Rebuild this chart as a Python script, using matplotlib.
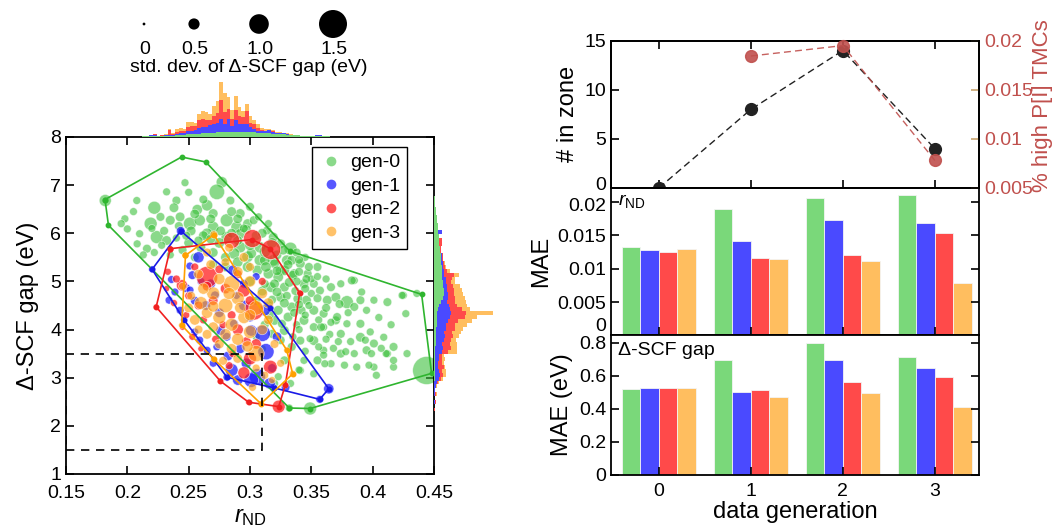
import numpy as np
import matplotlib
matplotlib.use("Agg")
import matplotlib.pyplot as plt
from matplotlib.lines import Line2D
from matplotlib.patches import Rectangle
from matplotlib.ticker import FuncFormatter
from matplotlib.transforms import ScaledTranslation

plt.rcParams['font.family'] = ['Liberation Sans', 'DejaVu Sans']
plt.rcParams['mathtext.fontset'] = 'custom'
plt.rcParams['mathtext.rm'] = 'Liberation Sans'
plt.rcParams['mathtext.it'] = 'Liberation Sans:italic'
plt.rcParams['xtick.direction'] = 'in'
plt.rcParams['ytick.direction'] = 'in'

# ---------------- data ----------------
gen_labels = ['gen-0', 'gen-1', 'gen-2', 'gen-3']

# scatter points: (r_ND, Delta-SCF gap, std dev of gap)
gen0_pts = [
    (0.182, 6.68, 0.55), (0.2077, 6.68, 0.3), (0.198, 6.30, 0.3), (0.200, 6.09, 0.3), (0.232, 6.86, 0.3),
    (0.240, 6.68, 0.35), (0.247, 7.05, 0.3), (0.277, 7.06, 0.5), (0.273, 6.86, 0.75), (0.238, 6.53, 0.4),
    (0.222, 6.53, 0.6), (0.257, 6.49, 0.45), (0.265, 6.58, 0.5), (0.270, 6.41, 0.4), (0.284, 6.68, 0.35),
    (0.292, 6.41, 0.4), (0.227, 6.34, 0.35), (0.219, 6.20, 0.6), (0.235, 6.27, 0.4), (0.243, 6.34, 0.4),
    (0.251, 6.20, 0.6), (0.259, 6.27, 0.5), (0.270, 6.13, 0.5), (0.281, 6.27, 0.6), (0.289, 6.13, 0.5),
    (0.298, 6.20, 0.4), (0.303, 6.27, 0.35), (0.307, 6.34, 0.3), (0.210, 5.99, 0.3), (0.224, 5.92, 0.6),
    (0.208, 5.78, 0.3), (0.216, 5.68, 0.35), (0.232, 5.85, 0.4), (0.265, 5.99, 0.5), (0.281, 5.92, 0.5),
    (0.292, 5.99, 0.45), (0.314, 6.06, 0.35), (0.319, 5.92, 0.4), (0.325, 5.78, 0.4), (0.308, 5.71, 0.5),
    (0.292, 5.71, 0.5), (0.333, 5.68, 0.6), (0.287, 5.58, 0.5), (0.298, 5.51, 0.5), (0.308, 5.44, 0.5),
    (0.319, 5.44, 0.5), (0.330, 5.44, 0.45), (0.341, 5.37, 0.4), (0.325, 5.23, 0.45), (0.336, 5.16, 0.4),
    (0.347, 5.16, 0.35), (0.355, 5.30, 0.35), (0.344, 4.95, 0.4), (0.352, 4.95, 0.35), (0.357, 4.81, 0.35),
    (0.366, 4.88, 0.35), (0.374, 4.95, 0.3), (0.385, 5.02, 0.3), (0.363, 4.61, 0.4), (0.370, 4.67, 0.4),
    (0.379, 4.57, 0.6), (0.390, 4.61, 0.35), (0.401, 4.61, 0.3), (0.412, 4.57, 0.35), (0.425, 4.71, 0.3),
    (0.436, 4.75, 0.3), (0.346, 4.61, 0.4), (0.352, 4.40, 0.4), (0.360, 4.33, 0.35), (0.344, 4.19, 0.4),
    (0.352, 4.05, 0.35), (0.360, 4.05, 0.3), (0.370, 4.19, 0.35), (0.374, 3.91, 0.35), (0.379, 4.12, 0.3),
    (0.390, 4.12, 0.35), (0.390, 3.84, 0.4), (0.401, 3.71, 0.35), (0.409, 3.84, 0.3), (0.417, 3.64, 0.35),
    (0.341, 3.77, 0.35), (0.352, 3.77, 0.4), (0.360, 3.57, 0.3), (0.374, 3.50, 0.35), (0.385, 3.50, 0.3),
    (0.395, 3.57, 0.35), (0.412, 3.50, 0.3), (0.428, 3.50, 0.3), (0.344, 3.36, 0.3), (0.355, 3.36, 0.35),
    (0.366, 3.29, 0.3), (0.387, 3.22, 0.3), (0.401, 3.22, 0.3), (0.417, 3.22, 0.3), (0.341, 3.15, 0.3),
    (0.352, 3.08, 0.3), (0.444, 3.15, 1.5), (0.349, 2.36, 0.6), (0.332, 2.37, 0.3), (0.403, 3.05, 0.3),
    (0.377, 3.26, 0.3), (0.361, 3.29, 0.3), (0.373, 4.53, 0.35), (0.383, 5.02, 0.35), (0.391, 4.78, 0.3),
    (0.424, 4.71, 0.3), (0.427, 4.33, 0.3), (0.385, 4.47, 0.35), (0.371, 4.26, 0.35), (0.339, 4.64, 0.4),
    (0.342, 4.40, 0.35), (0.358, 4.05, 0.35), (0.349, 3.81, 0.3), (0.356, 3.64, 0.3), (0.368, 3.61, 0.3),
    (0.378, 3.54, 0.3), (0.394, 3.78, 0.3), (0.399, 3.50, 0.3), (0.411, 3.50, 0.3), (0.407, 3.61, 0.3),
    (0.417, 3.36, 0.3), (0.397, 3.26, 0.3), (0.360, 3.47, 0.3), (0.301, 5.58, 0.45), (0.312, 5.44, 0.45),
    (0.320, 5.37, 0.4), (0.328, 5.23, 0.45), (0.334, 5.44, 0.4), (0.335, 5.13, 0.4), (0.323, 5.09, 0.45),
    (0.315, 5.16, 0.45), (0.306, 5.23, 0.45), (0.298, 5.30, 0.45), (0.317, 4.88, 0.45), (0.328, 4.88, 0.4),
    (0.325, 4.67, 0.4), (0.334, 4.47, 0.4), (0.323, 4.40, 0.4), (0.331, 4.26, 0.4), (0.320, 4.19, 0.4),
    (0.328, 3.98, 0.4), (0.325, 3.78, 0.35), (0.318, 3.91, 0.35), (0.334, 3.64, 0.35), (0.328, 3.36, 0.35),
    (0.323, 3.02, 0.3), (0.333, 2.88, 0.3), (0.320, 2.88, 0.3), (0.340, 3.16, 0.3), (0.290, 5.40, 0.45),
    (0.280, 5.50, 0.4), (0.270, 5.60, 0.4), (0.260, 5.70, 0.4), (0.250, 5.80, 0.4), (0.300, 5.00, 0.4),
    (0.310, 4.80, 0.4), (0.305, 4.60, 0.35), (0.315, 4.50, 0.35), (0.312, 4.10, 0.35), (0.305, 3.85, 0.3),
    (0.310, 3.60, 0.3), (0.280, 5.30, 0.4), (0.270, 5.35, 0.35), (0.255, 5.50, 0.35), (0.245, 5.65, 0.35),
    (0.300, 5.75, 0.45), (0.312, 5.62, 0.5), (0.322, 5.55, 0.4), (0.290, 5.85, 0.4), (0.275, 5.80, 0.45),
    (0.262, 5.95, 0.4), (0.252, 6.05, 0.4), (0.276, 6.05, 0.4), (0.297, 6.08, 0.4), (0.285, 6.45, 0.4),
    (0.262, 6.70, 0.35), (0.250, 6.85, 0.3), (0.300, 6.55, 0.35), (0.220, 6.10, 0.3), (0.205, 6.45, 0.3),
    (0.195, 6.20, 0.3), (0.213, 5.55, 0.3), (0.235, 5.55, 0.3), (0.230, 6.05, 0.35), (0.242, 6.15, 0.35),
    (0.268, 6.30, 0.4), (0.255, 6.40, 0.4), (0.290, 6.30, 0.4), (0.315, 6.20, 0.3), (0.338, 5.60, 0.35),
    (0.345, 5.50, 0.3), (0.350, 5.05, 0.3), (0.338, 5.00, 0.35), (0.330, 4.70, 0.35), (0.350, 4.75, 0.3),
    (0.345, 4.30, 0.3), (0.338, 4.10, 0.3), (0.335, 3.85, 0.3), (0.345, 3.55, 0.3),
    (0.305, 5.95, 0.4), (0.318, 5.80, 0.45), (0.327, 5.65, 0.4), (0.340, 5.45, 0.35), (0.348, 5.30, 0.35),
    (0.331, 5.35, 0.4), (0.322, 5.22, 0.4), (0.313, 5.30, 0.45), (0.340, 5.20, 0.35), (0.346, 5.05, 0.35),
    (0.332, 4.98, 0.4), (0.320, 4.95, 0.4), (0.312, 4.95, 0.35), (0.337, 4.80, 0.35), (0.322, 4.78, 0.4),
    (0.345, 4.85, 0.35), (0.355, 4.65, 0.35), (0.340, 4.52, 0.35), (0.328, 4.55, 0.4), (0.318, 4.62, 0.35),
    (0.336, 4.35, 0.35), (0.348, 4.50, 0.3), (0.326, 4.12, 0.35), (0.340, 4.00, 0.3), (0.316, 4.30, 0.35),
    (0.362, 4.45, 0.35), (0.366, 4.15, 0.3), (0.356, 4.20, 0.3), (0.380, 4.35, 0.3), (0.395, 4.40, 0.3),
    (0.405, 4.25, 0.3), (0.415, 4.10, 0.3), (0.398, 3.95, 0.3), (0.382, 3.75, 0.3), (0.365, 3.90, 0.3),
    (0.372, 3.75, 0.3), (0.362, 3.80, 0.3), (0.355, 5.10, 0.3), (0.362, 5.05, 0.3), (0.310, 6.00, 0.4),
    (0.295, 6.10, 0.35), (0.285, 6.00, 0.4), (0.268, 5.88, 0.4), (0.258, 5.85, 0.35), (0.248, 5.95, 0.35),
    (0.240, 5.90, 0.3), (0.228, 5.75, 0.3), (0.222, 5.60, 0.3),
]
gen1_pts = [
    (0.2435, 6.05, 0.35), (0.2202, 5.25, 0.25), (0.2463, 4.20, 0.25), (0.2812, 3.01, 0.3), (0.3193, 2.79, 0.3),
    (0.3568, 2.55, 0.3), (0.3642, 2.77, 0.45), (0.3166, 4.45, 0.25), (0.258, 5.50, 0.5), (0.251, 5.32, 0.3),
    (0.286, 5.24, 0.4), (0.253, 5.13, 0.35), (0.236, 5.04, 0.3), (0.248, 4.86, 0.35), (0.2511, 4.82, 0.3),
    (0.2388, 4.78, 0.3), (0.2715, 4.71, 0.35), (0.289, 4.71, 0.3), (0.301, 3.98, 0.5), (0.310, 3.92, 0.8),
    (0.313, 3.54, 0.8), (0.306, 3.02, 0.8), (0.301, 2.95, 0.7), (0.285, 3.16, 0.6), (0.316, 2.88, 0.5),
    (0.322, 3.85, 0.4), (0.265, 3.57, 0.3), (0.273, 3.64, 0.3), (0.259, 3.78, 0.3), (0.281, 3.85, 0.35),
    (0.276, 3.98, 0.4), (0.287, 4.12, 0.35), (0.312, 4.40, 0.5), (0.234, 4.61, 0.3), (0.243, 4.40, 0.3),
    (0.264, 4.50, 0.4), (0.255, 4.60, 0.35), (0.275, 4.35, 0.4), (0.295, 4.50, 0.45), (0.300, 4.25, 0.35),
    (0.268, 4.95, 0.4), (0.295, 4.95, 0.35), (0.305, 5.10, 0.3), (0.292, 3.60, 0.4), (0.297, 3.30, 0.45),
    (0.290, 2.95, 0.45), (0.329, 2.80, 0.35), (0.318, 3.20, 0.35), (0.270, 3.30, 0.3), (0.255, 3.95, 0.3),
    (0.282, 3.45, 0.4), (0.260, 5.00, 0.3),
]
gen2_pts = [
    (0.285, 5.85, 0.8), (0.302, 5.89, 0.9), (0.317, 5.66, 1.0), (0.265, 5.09, 1.1), (0.303, 4.40, 1.0),
    (0.295, 4.81, 0.6), (0.2445, 4.92, 0.5), (0.3166, 3.22, 0.65), (0.235, 5.68, 0.2), (0.2235, 4.47, 0.2),
    (0.2758, 2.93, 0.2), (0.2989, 2.49, 0.2), (0.3234, 2.40, 0.6), (0.3288, 2.85, 0.2), (0.3405, 4.76, 0.2),
    (0.233, 5.20, 0.25), (0.240, 5.05, 0.3), (0.232, 4.85, 0.2), (0.250, 4.70, 0.3), (0.258, 4.50, 0.35),
    (0.248, 4.30, 0.25), (0.262, 4.20, 0.3), (0.270, 4.60, 0.4), (0.280, 4.85, 0.45), (0.285, 4.30, 0.35),
    (0.290, 4.00, 0.5), (0.297, 3.75, 0.4), (0.300, 3.40, 0.6), (0.295, 3.10, 0.55), (0.286, 3.50, 0.3),
    (0.272, 3.80, 0.3), (0.278, 4.10, 0.3), (0.300, 4.60, 0.4), (0.310, 5.00, 0.3), (0.255, 5.30, 0.3),
    (0.275, 5.25, 0.35), (0.245, 4.05, 0.2), (0.260, 3.60, 0.2), (0.283, 3.25, 0.3), (0.305, 3.70, 0.45),
    (0.265, 4.90, 0.4), (0.290, 5.15, 0.35), (0.253, 3.85, 0.25), (0.238, 4.55, 0.25),
]
gen3_pts = [
    (0.2474, 5.54, 0.25), (0.2705, 5.97, 0.3), (0.330, 3.57, 0.2), (0.3348, 3.08, 0.25), (0.3089, 2.46, 0.2),
    (0.2703, 3.39, 0.2), (0.2443, 4.09, 0.2), (0.285, 4.95, 0.8), (0.305, 3.50, 0.8), (0.305, 4.45, 0.7),
    (0.270, 4.75, 0.6), (0.260, 4.55, 0.6), (0.280, 4.50, 0.7), (0.290, 4.65, 0.6), (0.275, 4.25, 0.6),
    (0.265, 4.35, 0.5), (0.285, 4.10, 0.6), (0.295, 4.25, 0.55), (0.300, 3.95, 0.6), (0.290, 3.80, 0.55),
    (0.280, 3.90, 0.5), (0.270, 4.05, 0.45), (0.255, 4.20, 0.45), (0.250, 4.45, 0.4), (0.262, 4.85, 0.5),
    (0.275, 5.05, 0.5), (0.290, 5.20, 0.45), (0.300, 5.00, 0.5), (0.310, 4.75, 0.45), (0.315, 4.20, 0.4),
    (0.310, 4.00, 0.45), (0.298, 3.65, 0.5), (0.285, 3.60, 0.45), (0.275, 3.70, 0.4), (0.265, 3.90, 0.4),
    (0.258, 4.00, 0.35), (0.252, 4.70, 0.35), (0.258, 5.15, 0.4), (0.268, 5.35, 0.4), (0.280, 5.40, 0.35),
    (0.295, 5.50, 0.4), (0.300, 4.30, 0.5), (0.283, 4.75, 0.55), (0.270, 4.48, 0.5), (0.292, 4.45, 0.5),
    (0.305, 3.20, 0.3), (0.312, 3.05, 0.3), (0.325, 3.30, 0.3), (0.318, 2.95, 0.25), (0.290, 3.40, 0.4),
    (0.278, 3.35, 0.35), (0.302, 2.80, 0.3), (0.245, 4.90, 0.3), (0.315, 4.55, 0.45), (0.320, 3.70, 0.35),
    (0.265, 5.60, 0.35), (0.283, 5.70, 0.35), (0.300, 5.30, 0.35),
]

# outline vertices per generation
gen0_hull = [(0.1818, 6.70), (0.2442, 7.584), (0.264, 7.48), (0.3324, 5.63), (0.4399, 4.73),
             (0.448, 3.09), (0.349, 2.36), (0.332, 2.37), (0.1846, 6.166)]
gen1_hull = [(0.2435, 6.05), (0.3166, 4.45), (0.3642, 2.77), (0.3568, 2.55), (0.3193, 2.79),
             (0.2812, 3.01), (0.2463, 4.20), (0.2202, 5.25)]
gen2_hull = [(0.235, 5.68), (0.3016, 5.87), (0.3166, 5.68), (0.3405, 4.76), (0.3288, 2.85),
             (0.3234, 2.40), (0.2989, 2.49), (0.2758, 2.93), (0.2235, 4.47)]
gen3_hull = [(0.2474, 5.54), (0.2705, 5.97), (0.330, 3.57), (0.3348, 3.08), (0.3089, 2.46),
             (0.2703, 3.39), (0.2443, 4.09)]

# zone box
zone_r = (0.15, 0.31)
zone_gap = (1.5, 3.5)

# marginal histogram of r_ND (stacked, bins of width 0.003 from 0.212)
rnd_bin_start, rnd_bin_w = 0.212, 0.003
rnd_hist_g0 = [1,1,1,1,1,1,1,1,1,2,2,2,3,3,3,3,4,4,4,4,5,5,5,5,5,5,5,5,5,5,5,4,4,4,4,3,3,3,3,2,2,2,2,1,1,1,1,1,1,1,1,0,0,0,0,0]
rnd_hist_g1 = [0,0,1,1,0,0,1,1,1,1,2,2,3,3,4,6,6,6,8,9,9,13,8,13,6,12,8,8,8,5,3,2,2,2,3,2,1,1,1,1,0,0,0,0,0,0,0,1,1,0,0,0,0,0,0,0]
rnd_hist_g2 = [0,0,0,1,0,1,0,5,1,2,2,2,4,5,4,8,8,7,5,8,10,19,12,10,7,10,8,7,13,4,5,3,1,0,0,1,0,0,0,0,0,0,0,0,0,0,0,0,0,0,0,0,0,0,0,0]
rnd_hist_g3 = [0,0,0,0,0,0,1,1,1,3,3,2,5,4,3,6,8,8,6,10,12,18,19,12,9,14,9,6,7,7,4,4,2,2,1,1,1,1,0,1,1,0,0,0,0,0,0,0,0,0,0,0,0,0,0,0]

# marginal histogram of gap (stacked, bins of 0.08 from 2.30)
gap_bin_start, gap_bin_w = 2.30, 0.08
gap_hist_g0 = [0,0,0,0,0,0,0,0,1,1,1,1,1,1,1,1,1,2,2,2,2,2,3,3,3,3,4,5,7,9,10,10,9,9,8,8,8,8,7,7,7,6,6,5,5,5,4,4,4,3,3,2,2,1,1,1]
gap_hist_g1 = [0,0,1,0,1,1,2,3,4,5,4,3,3,4,4,7,8,6,8,9,8,10,9,11,13,14,12,10,6,5,4,3,4,3,4,2,2,1,2,1,1,0,0,0,0,0,4,0,0,0,0,0,0,0,0,0]
gap_hist_g2 = [1,0,1,0,1,0,0,1,2,3,3,6,4,3,3,6,8,8,7,8,8,9,9,10,15,15,12,8,8,7,6,7,6,5,6,10,3,2,1,1,1,1,1,3,3,0,0,0,0,0,0,0,0,0,0,0]
gap_hist_g3 = [0,0,0,0,1,0,1,1,2,3,4,1,2,3,2,9,6,7,5,6,9,8,12,14,12,27,8,10,11,10,9,8,7,4,3,5,3,1,1,0,0,0,0,0,0,0,0,0,0,0,0,0,0,0,0,0]

# right panels
data_gen = [0, 1, 2, 3]
n_in_zone = [0, 8, 14, 4]
pct_high_PI = [np.nan, 0.01844, 0.0195, 0.0078]
mae_rnd = {
    'gen-0': [0.0132, 0.0190, 0.02056, 0.0210],
    'gen-1': [0.01286, 0.0142, 0.0173, 0.0168],
    'gen-2': [0.01245, 0.01163, 0.0120, 0.0153],
    'gen-3': [0.0129, 0.01148, 0.01117, 0.0078],
}
mae_gap = {
    'gen-0': [0.522, 0.694, 0.800, 0.713],
    'gen-1': [0.526, 0.504, 0.694, 0.648],
    'gen-2': [0.528, 0.514, 0.562, 0.593],
    'gen-3': [0.528, 0.471, 0.497, 0.414],
}
size_leg_vals = [0, 0.5, 1.0, 1.5]

# ---------------- styles ----------------
scat_cols = ['#3cc03c', '#1f1fff', '#ff1f1f', '#ffa21a']
scat_alpha = [0.6, 0.75, 0.75, 0.65]
hull_cols = ['#2fb52f', '#1a1ae6', '#f02020', '#ffa000']
bar_cols = ['#7ad87a', '#4a4aff', '#ff4a4a', '#ffbe5f']
red_axis = '#c0504d'
tan_tick = '#c8a46e'
FS_TICK = 14
FS_LAB = 17


def size_of(sd):
    d_px = 2.8 + 16.8 * np.asarray(sd, dtype=float)
    return (d_px * 0.72) ** 2


fmt = FuncFormatter(lambda v, p: ('%g' % v))

fig = plt.figure(figsize=(10.56, 5.27), dpi=100)

# ---------------- main scatter ----------------
ax = fig.add_axes([0.0625, 0.1006, 0.3485, 0.6395])
all_pts = [gen0_pts, gen1_pts, gen2_pts, gen3_pts]
for k, pts in enumerate(all_pts):
    xs = [p[0] for p in pts]
    ys = [p[1] for p in pts]
    sd = [p[2] for p in pts]
    ax.scatter(xs, ys, s=size_of(sd), color=scat_cols[k], alpha=scat_alpha[k],
               edgecolors='white', linewidths=0.5, zorder=2 + k * 0.1)
for k, hull in enumerate([gen0_hull, gen1_hull, gen2_hull, gen3_hull]):
    hx = [p[0] for p in hull] + [hull[0][0]]
    hy = [p[1] for p in hull] + [hull[0][1]]
    ax.plot(hx, hy, '-', color=hull_cols[k], lw=1.2, marker='o', ms=3.2, zorder=3)
ax.add_patch(Rectangle((zone_r[0], zone_gap[0]), zone_r[1] - zone_r[0], zone_gap[1] - zone_gap[0],
                       fill=False, ls=(0, (5, 4)), lw=1.2, ec='black', zorder=4))
ax.set_xlim(0.15, 0.45)
ax.set_ylim(1, 8)
ax.set_xticks([0.15, 0.2, 0.25, 0.3, 0.35, 0.4, 0.45])
ax.set_yticks(range(1, 9))
ax.xaxis.set_major_formatter(fmt)
ax.tick_params(labelsize=FS_TICK, top=True, right=True, length=6, width=1.2)
ax.tick_params(axis='x', pad=8)
for sp in ax.spines.values():
    sp.set_linewidth(1.3)
ax.set_xlabel(r'$r_{\rm ND}$', fontsize=FS_LAB, labelpad=3)
ax.set_ylabel('Δ-SCF gap (eV)', fontsize=FS_LAB, labelpad=8)
handles = [Line2D([], [], ls='', marker='o', ms=7, color=scat_cols[k], alpha=scat_alpha[k],
                  mec='none') for k in range(4)]
ax.legend(handles, gen_labels, loc='upper right', bbox_to_anchor=(0.927, 0.970),
          borderaxespad=0, frameon=True, fancybox=False, edgecolor='black', framealpha=1,
          fontsize=FS_TICK, labelspacing=0.3, handletextpad=0.4, handlelength=1.2,
          borderpad=0.35).get_frame().set_linewidth(1.0)

# ---------------- top marginal histogram ----------------
axt = fig.add_axes([0.0625, 0.740, 0.3485, 0.108])
nb = len(rnd_hist_g0)
xc = rnd_bin_start + rnd_bin_w * (np.arange(nb) + 0.5)
bottom = np.zeros(nb)
for k, h in enumerate([rnd_hist_g0, rnd_hist_g1, rnd_hist_g2, rnd_hist_g3]):
    h = np.asarray(h, float)
    axt.bar(xc, h, width=rnd_bin_w, bottom=bottom, color=bar_cols[k], lw=0)
    bottom += h
axt.set_xlim(0.15, 0.45)
axt.set_ylim(0, 57)
axt.axis('off')

# ---------------- right marginal histogram ----------------
axr = fig.add_axes([0.411, 0.1006, 0.0625, 0.6395])
nb = len(gap_hist_g0)
yc = gap_bin_start + gap_bin_w * (np.arange(nb) + 0.5)
left = np.zeros(nb)
for k, h in enumerate([gap_hist_g0, gap_hist_g1, gap_hist_g2, gap_hist_g3]):
    h = np.asarray(h, float)
    axr.barh(yc, h, height=gap_bin_w, left=left, color=bar_cols[k], lw=0)
    left += h
axr.set_ylim(1, 8)
axr.set_xlim(0, 66)
axr.axis('off')

# ---------------- size legend ----------------
axs = fig.add_axes([0, 1 - 80 / 527, 1, 80 / 527])
axs.set_xlim(0, 1056)
axs.set_ylim(80, 0)
axs.axis('off')
leg_x = [144, 194, 259, 333]
axs.scatter(leg_x, [24] * 4, s=size_of(size_leg_vals), color='black', lw=0)
for xv, v in zip(leg_x, size_leg_vals):
    axs.text(xv + 1, 49, '%g' % v if v == 0 else '%.1f' % v, ha='center', va='center', fontsize=FS_TICK)
axs.text(249, 68, 'std. dev. of Δ-SCF gap (eV)', ha='center', va='center', fontsize=FS_TICK)

# ---------------- right panels ----------------
L, W = 0.5786, 0.3485
ax1 = fig.add_axes([L, 0.6433, W, 0.2795])
ax2 = fig.add_axes([L, 0.3634, W, 0.2799])
ax3 = fig.add_axes([L, 0.0992, W, 0.2642])

ax1.plot(data_gen, n_in_zone, ls=(0, (5, 3)), lw=1.0, color='#222222', marker='o', ms=8.5,
         mfc='#222222', mec='#222222', clip_on=False, zorder=5)
ax1.set_xlim(-0.52, 3.48)
ax1.set_ylim(0, 15)
ax1.set_yticks([0, 5, 10, 15])
ax1.set_xticks(data_gen)
ax1.tick_params(axis='x', labelbottom=False, top=True, length=6, width=1.2)
ax1.tick_params(axis='y', labelsize=FS_TICK, length=6, width=1.2)
ax1.set_ylabel('# in zone', fontsize=FS_LAB, labelpad=4)
ax1b = ax1.twinx()
ax1b.plot(data_gen, pct_high_PI, ls=(0, (5, 3)), lw=1.0, color=red_axis, marker='o', ms=8.5,
          mfc=red_axis, mec=red_axis, alpha=0.9, clip_on=False, zorder=6)
ax1b.set_ylim(0.005, 0.02)
ax1b.set_yticks([0.005, 0.01, 0.015, 0.02])
ax1b.yaxis.set_major_formatter(fmt)
ax1b.tick_params(axis='y', labelsize=FS_TICK, colors=tan_tick, labelcolor=red_axis, length=6, width=1.2)
ax1b.set_ylabel('% high P[I] TMCs', fontsize=16, color=red_axis)
ax1b.yaxis.set_label_coords(1.145, 0.56)

offsets = [-0.3, -0.1, 0.1, 0.3]
for axx, mae in [(ax2, mae_rnd), (ax3, mae_gap)]:
    for k, g in enumerate(gen_labels):
        axx.bar(np.asarray(data_gen) + offsets[k], mae[g], width=0.2, color=bar_cols[k],
                edgecolor='#f4f4f4', lw=0.6, zorder=2)
    axx.set_xlim(-0.52, 3.48)
    axx.set_xticks(data_gen)
    axx.tick_params(axis='y', labelsize=FS_TICK, right=True, length=6, width=1.2)
    axx.tick_params(axis='x', labelsize=FS_TICK, length=6, width=1.2, pad=6)
    axx.yaxis.set_major_formatter(fmt)
    axx.set_axisbelow(False)

ax2.set_ylim(0, 0.0221)
ax2.set_yticks([0, 0.005, 0.01, 0.015, 0.02])
ax2.tick_params(axis='x', labelbottom=False)
ax2.set_ylabel('MAE', fontsize=FS_LAB, labelpad=4)
ax2.yaxis.get_major_ticks()[0].label1.set_verticalalignment('bottom')
ax2.text(0.02, 0.975, r'$r_{\rm ND}$', transform=ax2.transAxes, ha='left', va='top', fontsize=FS_TICK)

ax3.set_ylim(0, 0.845)
ax3.set_yticks([0, 0.2, 0.4, 0.6, 0.8])
ax3.set_ylabel('MAE (eV)', fontsize=FS_LAB, labelpad=4)
ax3.set_xlabel('data generation', fontsize=FS_LAB, labelpad=1)
ax3.text(0.02, 0.955, 'Δ-SCF gap', transform=ax3.transAxes, ha='left', va='top', fontsize=FS_TICK)

# nudge adjacent tick labels at the panel joints apart a little
lbl0 = ax1.yaxis.get_major_ticks()[0].label1
lbl0.set_transform(lbl0.get_transform() + ScaledTranslation(0, 3 / 72, fig.dpi_scale_trans))
lbl2 = ax2.yaxis.get_major_ticks()[-1].label1
lbl2.set_transform(lbl2.get_transform() + ScaledTranslation(0, -1.5 / 72, fig.dpi_scale_trans))

for a in (ax1, ax1b, ax2, ax3):
    for sp in a.spines.values():
        sp.set_linewidth(1.3)

fig.savefig('out.png', dpi=100)
